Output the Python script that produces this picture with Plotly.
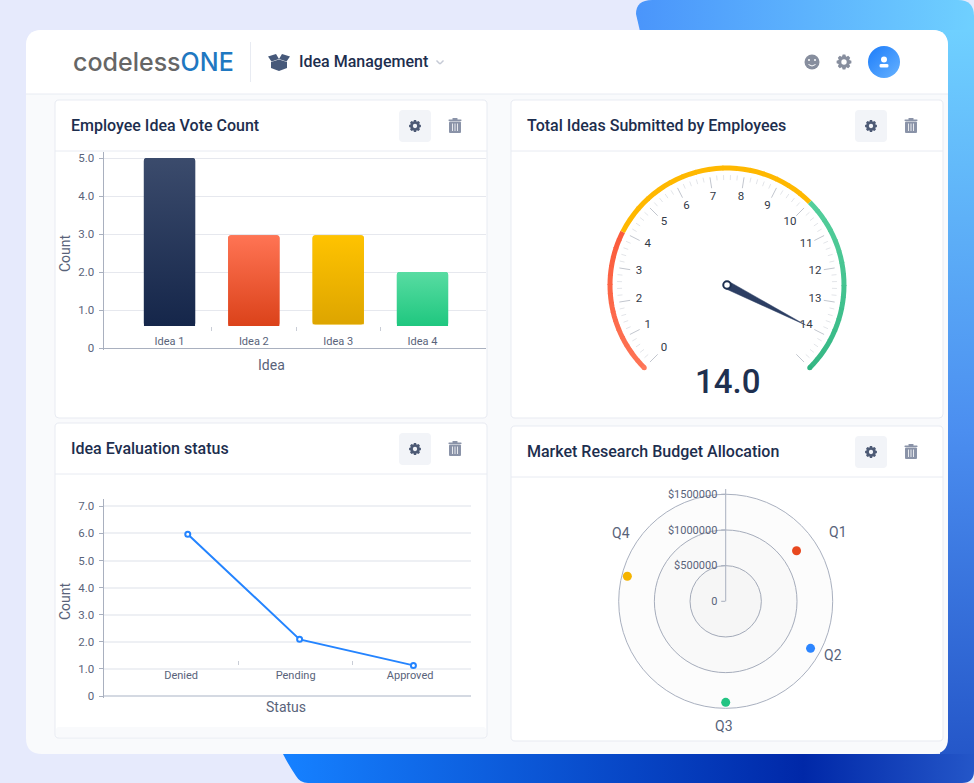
#!/usr/bin/env python
# coding: utf-8

import base64

import numpy as np
import plotly.graph_objects as go

W, H = 974, 783

## Data

vote_ideas = ["Idea 1", "Idea 2", "Idea 3", "Idea 4"]
vote_counts = [5.0, 2.97, 2.97, 2.0]
vote_floor = [0.58, 0.58, 0.62, 0.58]  # the bars float above the axis in the original
vote_ticks = [0, 1, 2, 3, 4, 5]
vote_ticktext = ["0", "1.0", "2.0", "3.0", "4.0", "5.0"]

status_names = ["Denied", "Pending", "Approved"]
status_pos = [0.058, 1.035, 2.029]
status_counts = [5.97, 2.09, 1.13]
status_ticks = [0, 1, 2, 3, 4, 5, 6, 7]
status_ticktext = ["0", "1.0", "2.0", "3.0", "4.0", "5.0", "6.0", "7.0"]

gauge_value = 14.0
gauge_labels = [str(i) for i in range(15)]
gauge_major = list(range(16))
gauge_bands = [0, 4, 10, 15]

budget_quarters = ["Q1", "Q2", "Q3", "Q4"]
budget_angle = [54.5, 119, 180, 284.3]
budget_values = [1220000, 1360000, 1416000, 1423000]
budget_ticks = [0, 500000, 1000000, 1500000]
budget_ticktext = ["0", "$500000", "$1000000", "$1500000"]

## Styles

FONT = "Roboto"
INK = "#1D2E4E"
MUTED = "#59637A"
AXIS = "#A9B0BF"
GRID = "#E6E8EE"

BAR_TOP = ["#3B4B6C", "#FF7454", "#FFC300", "#58DCA2"]
BAR_BOTTOM = ["#15264A", "#DB421A", "#DDA500", "#1FC77F"]
BAR_MID = ["#283A5C", "#ED5B37", "#EEB400", "#3CD291"]
BAR_WIDTH = 0.61
BAR_PX_W, BAR_PX_UNIT = 51, 38

BAND_TOP = ["#F94F2F", "#FFB800", "#5AD3A0"]
BAND_BOTTOM = ["#FF7A5C", "#FFB800", "#2FB380"]
BUDGET_COLORS = ["#E8481F", "#2C85FF", "#22C483", "#F5B400"]


## Helpers

def fx(x):
    return x / W


def fy(y):
    return 1 - y / H


def poly(points):
    return "M " + " L ".join(f"{fx(x):.5f},{fy(y):.5f}" for x, y in points) + " Z"


def round_rect(x0, y0, x1, y1, r):
    p = lambda x, y: f"{fx(x):.5f},{fy(y):.5f}"
    return (f"M {p(x0 + r, y0)} L {p(x1 - r, y0)} Q {p(x1, y0)} {p(x1, y0 + r)} "
            f"L {p(x1, y1 - r)} Q {p(x1, y1)} {p(x1 - r, y1)} "
            f"L {p(x0 + r, y1)} Q {p(x0, y1)} {p(x0, y1 - r)} "
            f"L {p(x0, y0 + r)} Q {p(x0, y0)} {p(x0 + r, y0)} Z")


def svg_uri(svg):
    return "data:image/svg+xml;base64," + base64.b64encode(svg.encode()).decode()


def lerp_color(c0, c1, t):
    a = [int(c0[i:i + 2], 16) for i in (1, 3, 5)]
    b = [int(c1[i:i + 2], 16) for i in (1, 3, 5)]
    return "rgb(" + ",".join(str(round(u + (v - u) * t)) for u, v in zip(a, b)) + ")"


def to_theta(v):
    return np.asarray(v) * 18 - 135


shapes = []
annotations = []
images = []


def box(x0, y0, x1, y1, r, fill, line=None, layer="below"):
    shapes.append(dict(type="path", path=round_rect(x0, y0, x1, y1, r), xref="paper", yref="paper",
                       fillcolor=fill, line=dict(width=1 if line else 0, color=line or fill), layer=layer))


def blob(points, fill, layer="below"):
    shapes.append(dict(type="path", path=poly(points), xref="paper", yref="paper",
                       fillcolor=fill, line=dict(width=0), layer=layer))


def rule(x0, y0, x1, y1, color, width=1, layer="below"):
    shapes.append(dict(type="line", xref="paper", yref="paper", x0=fx(x0), x1=fx(x1), y0=fy(y0), y1=fy(y1),
                       line=dict(color=color, width=width), layer=layer))


def dot(x, y, r, fill, layer="below"):
    shapes.append(dict(type="circle", xref="paper", yref="paper", x0=fx(x - r), x1=fx(x + r),
                       y0=fy(y + r), y1=fy(y - r), fillcolor=fill, line=dict(width=0), layer=layer))


def label(x, y, text, size, color=MUTED, anchor="center", weight=400, angle=0, family=FONT):
    if anchor == "left":
        x -= 2  # annotations sit about 2px in from their anchor
    annotations.append(dict(x=fx(x), y=fy(y), xref="paper", yref="paper", text=text, showarrow=False,
                            xanchor=anchor, yanchor="middle", textangle=angle,
                            font=dict(family=family, size=size, color=color, weight=weight)))


def gear(cx, cy, r, color, hole):
    pts = []
    teeth = 8
    for i in range(teeth):
        a = 2 * np.pi * i / teeth
        w = np.pi / teeth
        for da, rad in ((-w * 0.95, r * 0.76), (-w * 0.45, r), (w * 0.45, r), (w * 0.95, r * 0.76)):
            pts.append((cx + rad * np.sin(a + da), cy - rad * np.cos(a + da)))
    blob(pts, color)
    dot(cx, cy, r * 0.36, hole)


def trash(cx, cy):
    c = "#8A93A8"
    box(cx - 6, cy - 4.5, cx + 6, cy + 7, 1, c)
    box(cx - 6.5, cy - 6.5, cx + 6.5, cy - 5, 0.5, c)
    box(cx - 2.5, cy - 8, cx + 2.5, cy - 6, 0.5, c)
    for dx in (-2.5, 0, 2.5):
        rule(cx + dx, cy - 2.5, cx + dx, cy + 5, "#FFFFFF", 0.8)


def panel(x0, y0, x1, y1, head_y, title):
    box(x0, y0, x1, y1, 4, "#FFFFFF", "#E8EBF2")
    rule(x0, head_y, x1, head_y, "#E8EBF2")
    label(x0 + 16, y0 + 25.5, title, 16, INK, "left", 500)
    box(x1 - 88, y0 + 10, x1 - 56, y0 + 42, 4, "#F2F4F8")
    gear(x1 - 72, y0 + 26, 6, "#4D5A75", "#F2F4F8")
    trash(x1 - 32, y0 + 26)


## Page, card and header

background = f"""<svg xmlns="http://www.w3.org/2000/svg" width="{W}" height="{H}" viewBox="0 0 {W} {H}">
<defs>
<linearGradient id="t" gradientUnits="userSpaceOnUse" x1="636" y1="0" x2="974" y2="0">
<stop offset="0" stop-color="#4A95FB"/><stop offset="1" stop-color="#6FD0FF"/></linearGradient>
<linearGradient id="r" gradientUnits="userSpaceOnUse" x1="0" y1="30" x2="0" y2="760">
<stop offset="0" stop-color="#6FD0FF"/><stop offset="0.55" stop-color="#4B8EF0"/><stop offset="1" stop-color="#2456C8"/></linearGradient>
<linearGradient id="b" gradientUnits="userSpaceOnUse" x1="290" y1="0" x2="974" y2="0">
<stop offset="0" stop-color="#1580FF"/><stop offset="0.75" stop-color="#0028A8"/><stop offset="1" stop-color="#2456C8"/></linearGradient>
</defs>
<path fill="url(#t)" d="M636 14 Q636 0 652 0 H958 Q974 0 974 16 V40 H642 Z"/>
<rect fill="url(#r)" x="940" y="30" width="34" height="730"/>
<path fill="url(#b)" d="M283 754 Q288 764 296 776 Q300 783 308 783 H962 Q974 783 974 771 V754 Z"/>
</svg>"""
images.append(dict(source=svg_uri(background), xref="paper", yref="paper", x=0, y=1, sizex=1, sizey=1,
                   xanchor="left", yanchor="top", sizing="stretch", layer="below"))

box(26, 30, 948, 754, 16, "#F9FAFC")
shapes.append(dict(type="path", path=round_rect(26, 30, 948, 110, 16), xref="paper", yref="paper",
                   fillcolor="#FFFFFF", line=dict(width=0), layer="below"))
box(26, 94, 948, 120, 0, "#F9FAFC")
rule(26, 94, 948, 94, "#E8EBF2")
rule(250.5, 42, 250.5, 82, "#E8EBF2")

label(73, 62, "<span style='color:#666666'>codeless</span><span style='color:#1F78C1'>ONE</span>",
      25, "#666666", "left", weight=500, family="Inter")
blob([(271, 62), (279, 59.5), (287, 62), (287, 68), (279, 71), (271, 68)], "#46597A")
blob([(268, 56.5), (276, 54), (279, 59), (271.5, 61.5)], "#46597A")
blob([(290, 56.5), (282, 54), (279, 59), (286.5, 61.5)], "#46597A")
label(299, 62, "Idea Management", 16, INK, "left", 500)
rule(436.5, 60.5, 440, 64, "#C5CAD5", 1.5)
rule(440, 64, 443.5, 60.5, "#C5CAD5", 1.5)

dot(812, 62, 7.5, "#878E9E")
dot(809, 60, 1, "#FFFFFF")
dot(815, 60, 1, "#FFFFFF")
rule(808.5, 64.5, 812, 66, "#FFFFFF", 1)
rule(812, 66, 815.5, 64.5, "#FFFFFF", 1)
gear(844, 62, 7.5, "#878E9E", "#FFFFFF")

avatar = """<svg xmlns="http://www.w3.org/2000/svg" width="32" height="32" viewBox="0 0 32 32">
<defs><linearGradient id="a" x1="0" y1="0" x2="1" y2="1"><stop offset="0" stop-color="#1C7CFA"/>
<stop offset="1" stop-color="#66B2FF"/></linearGradient></defs>
<circle cx="16" cy="16" r="16" fill="url(#a)"/></svg>"""
images.append(dict(source=svg_uri(avatar), xref="paper", yref="paper", x=fx(868), y=fy(46),
                   sizex=32 / W, sizey=32 / H, xanchor="left", yanchor="top", sizing="stretch", layer="above"))
dot(884, 59.5, 3, "#FFFFFF", layer="above")
box(879.5, 64, 888.5, 67.5, 1.5, "#FFFFFF", layer="above")

panel(55, 100, 487, 418, 151, "Employee Idea Vote Count")
panel(511, 100, 943, 418, 151, "Total Ideas Submitted by Employees")
panel(55, 423, 487, 738, 474, "Idea Evaluation status")
panel(511, 426, 943, 741, 477, "Market Research Budget Allocation")
box(56, 727, 486, 737, 3, "#F9FAFC")

fig = go.Figure()

## Bars

bar_heights = [c - b for c, b in zip(vote_counts, vote_floor)]
fig.add_trace(go.Bar(x=list(range(len(vote_ideas))), y=bar_heights, base=vote_floor, width=BAR_WIDTH,
                     marker=dict(color=BAR_MID, line=dict(width=0)), xaxis="x", yaxis="y", hoverinfo="skip"))

for i, (c, b) in enumerate(zip(vote_counts, vote_floor)):
    bh = (c - b) * BAR_PX_UNIT
    svg = f"""<svg xmlns="http://www.w3.org/2000/svg" width="{BAR_PX_W}" height="{bh:.1f}" viewBox="0 0 {BAR_PX_W} {bh:.1f}">
<defs><linearGradient id="g" x1="0" y1="0" x2="0" y2="1"><stop offset="0" stop-color="{BAR_TOP[i]}"/>
<stop offset="1" stop-color="{BAR_BOTTOM[i]}"/></linearGradient></defs>
<path fill="url(#g)" d="M0 {bh:.1f} V3 Q0 0 3 0 H{BAR_PX_W - 3} Q{BAR_PX_W} 0 {BAR_PX_W} 3 V{bh:.1f} Z"/></svg>"""
    images.append(dict(source=svg_uri(svg), xref="x", yref="y", x=i - BAR_WIDTH / 2, y=c,
                       sizex=BAR_WIDTH, sizey=c - b, xanchor="left", yanchor="top",
                       sizing="stretch", layer="above"))

label(271, 365, "Idea", 14)
label(65, 253, "Count", 14, angle=-90)

## Line

fig.add_trace(go.Scatter(x=status_pos, y=status_counts, mode="lines+markers", xaxis="x2", yaxis="y2",
                         line=dict(color="#2484FF", width=2),
                         marker=dict(size=5, color="#FFFFFF", line=dict(color="#2484FF", width=2)),
                         hoverinfo="skip"))
label(286, 707, "Status", 14)
label(65, 601, "Count", 14, angle=-90)

## Gauge

ARC_R = 117
for lo, hi, top, bottom in zip(gauge_bands[:-1], gauge_bands[1:], BAND_TOP, BAND_BOTTOM):
    steps = np.linspace(lo, hi, 17)
    for k in range(len(steps) - 1):
        mid = to_theta((steps[k] + steps[k + 1]) / 2)
        t = (np.cos(np.radians(mid)) + 1) / 2  # blend by height on the dial
        end = min(steps[k + 1] + 0.03, hi)  # small overlap so the pieces join cleanly
        fig.add_trace(go.Scatterpolar(r=[ARC_R] * 3, theta=to_theta([steps[k], (steps[k] + end) / 2, end]),
                                      mode="lines", subplot="polar", hoverinfo="skip",
                                      line=dict(color=lerp_color(bottom, top, t), width=5)))

# round caps on the arc ends
fig.add_trace(go.Scatterpolar(r=[ARC_R, ARC_R], theta=to_theta([gauge_bands[0], gauge_bands[-1]]), mode="markers",
                              subplot="polar", hoverinfo="skip",
                              marker=dict(size=5, color=[BAND_BOTTOM[0], BAND_BOTTOM[-1]])))

major_r, major_t, minor_r, minor_t = [], [], [], []
for v in gauge_major:
    major_r += [98, 109, None]
    major_t += [to_theta(v), to_theta(v), None]
    if v < gauge_major[-1]:
        for m in range(1, 5):
            minor_r += [105, 110, None]
            minor_t += [to_theta(v + m * 0.2), to_theta(v + m * 0.2), None]
fig.add_trace(go.Scatterpolar(r=minor_r, theta=minor_t, mode="lines", subplot="polar", hoverinfo="skip",
                              line=dict(color="#E3E5E9", width=1)))
fig.add_trace(go.Scatterpolar(r=major_r, theta=major_t, mode="lines", subplot="polar", hoverinfo="skip",
                              line=dict(color="#C2C6CE", width=1)))

needle_t = float(to_theta(gauge_value))
fig.add_trace(go.Scatterpolar(r=[4, 88, 4, 4], theta=[needle_t - 90, needle_t, needle_t + 90, needle_t - 90],
                              mode="lines", fill="toself", fillcolor="#2C3E63", subplot="polar", hoverinfo="skip",
                              line=dict(color="#2C3E63", width=0.5)))
fig.add_trace(go.Scatterpolar(r=[89] * len(gauge_labels), theta=to_theta(list(range(15))), mode="text",
                              text=gauge_labels, subplot="polar", hoverinfo="skip",
                              textfont=dict(family=FONT, size=11.5, color="#333A47")))
fig.add_trace(go.Scatterpolar(r=[0], theta=[0], mode="markers", subplot="polar", hoverinfo="skip",
                              marker=dict(size=7.5, color="#FFFFFF", line=dict(color="#1E3050", width=2))))
label(727, 381, f"{gauge_value:.1f}", 33, "#1E3050", weight=500)

## Polar budget

ring_theta = list(range(0, 361, 5))
for t in budget_ticks[1:]:
    fig.add_trace(go.Scatterpolar(r=[t] * len(ring_theta), theta=ring_theta, mode="lines", fill="toself",
                                  fillcolor="rgba(110,125,125,0.02)", line=dict(width=0), subplot="polar2",
                                  hoverinfo="skip"))
fig.add_trace(go.Scatterpolar(r=budget_values, theta=budget_angle, mode="markers", subplot="polar2",
                              text=budget_quarters, hoverinfo="skip",
                              marker=dict(size=9, color=BUDGET_COLORS)))
rule(725.7, 489, 725.7, 494.5, AXIS)
for q, (x, y) in zip(budget_quarters, [(838, 531.5), (833, 655), (724, 726), (621, 532.5)]):
    label(x, y, q, 14)

## Layout

tick_font = dict(family=FONT, size=11, color=MUTED)
y_tick_font = dict(family=FONT, size=11.5, color=MUTED)
fig.update_layout(
    width=W, height=H, autosize=False,
    margin=dict(l=0, r=0, t=0, b=0, pad=0, autoexpand=False),
    paper_bgcolor="#E6EAFC", plot_bgcolor="rgba(0,0,0,0)",
    showlegend=False, barcornerradius=3,
    font=dict(family=FONT, color=MUTED),
    shapes=shapes, annotations=annotations, images=images,
    xaxis=dict(domain=[fx(103.5), fx(486)], range=[-0.783, 3.753], anchor="free", position=fy(326),
               tickmode="array", tickvals=list(range(len(vote_ideas))), ticktext=vote_ideas,
               ticks="", ticklabelstandoff=7, showline=False, showgrid=False, zeroline=False, tickfont=tick_font,
               minor=dict(tickmode="array", tickvals=[0.5, 1.5, 2.5], ticks="outside", ticklen=4,
                          tickcolor="#C9CDD6", showgrid=False)),
    yaxis=dict(domain=[fy(350), fy(152)], range=[-2 / 38, 196 / 38], anchor="x",
               tickmode="array", tickvals=vote_ticks, ticktext=vote_ticktext, ticks="outside", ticklen=4,
               ticklabelstandoff=2, tickcolor=AXIS, showline=True, linecolor=AXIS, gridcolor=GRID, zeroline=True,
               zerolinecolor=AXIS, zerolinewidth=1, tickfont=y_tick_font),
    xaxis2=dict(domain=[fx(103.5), fx(471)], range=[-0.678, 2.532], anchor="free", position=fy(660),
                tickmode="array", tickvals=list(range(len(status_names))), ticktext=status_names,
                ticks="", ticklabelstandoff=7, showline=False, showgrid=False, zeroline=False, tickfont=tick_font,
                minor=dict(tickmode="array", tickvals=[0.5, 1.5], ticks="outside", ticklen=4,
                           tickcolor="#C9CDD6", showgrid=False)),
    yaxis2=dict(domain=[fy(698), fy(499)], range=[-2 / 27.1, 197 / 27.1], anchor="x2",
                tickmode="array", tickvals=status_ticks, ticktext=status_ticktext, ticks="outside", ticklen=4,
                ticklabelstandoff=2, tickcolor=AXIS, showline=True, linecolor=AXIS, gridcolor="#EEF0F4", gridwidth=1.5,
                zeroline=True, zerolinecolor="#D4D9E2", zerolinewidth=2, tickfont=y_tick_font),
    polar=dict(domain=dict(x=[fx(727 - 125), fx(727 + 125)], y=[fy(285 + 125), fy(285 - 125)]),
               bgcolor="rgba(0,0,0,0)",
               radialaxis=dict(visible=False, range=[0, 125]),
               angularaxis=dict(visible=False, rotation=90, direction="clockwise", thetaunit="degrees")),
    polar2=dict(domain=dict(x=[fx(725.7 - 107), fx(725.7 + 107)], y=[fy(601.3 + 107), fy(601.3 - 107)]),
                bgcolor="rgba(0,0,0,0)",
                radialaxis=dict(range=[0, 1500000], angle=90, tickangle=90, side="counterclockwise",
                                tickmode="array", tickvals=budget_ticks,
                                ticktext=budget_ticktext, ticks="outside", ticklen=4, tickcolor=AXIS,
                                showline=True, linecolor=AXIS, gridcolor=AXIS, tickfont=tick_font),
                angularaxis=dict(rotation=90, direction="clockwise", thetaunit="degrees", showgrid=False,
                                 showticklabels=False, ticks="", showline=True, linecolor=AXIS)),
)

fig.write_html("out.html", config=dict(displayModeBar=False),
               post_script="document.body.style.margin='0';document.body.style.overflow='hidden';")
